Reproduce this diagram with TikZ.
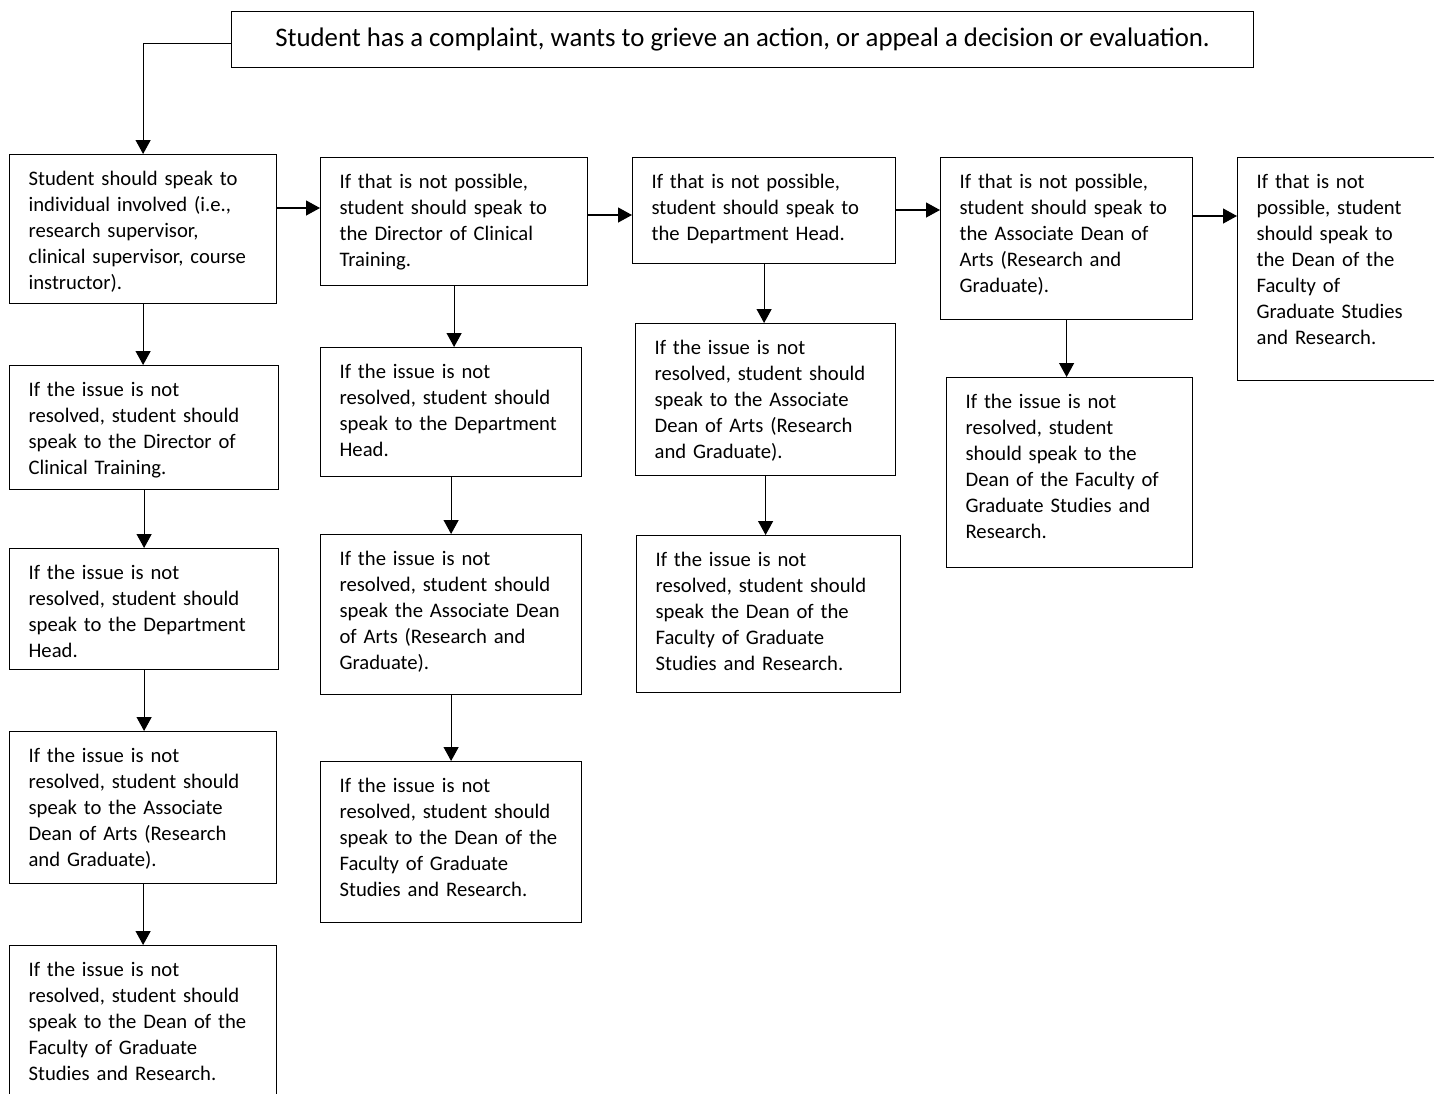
\documentclass[tikz,border=0pt]{standalone}
\usepackage{fontspec}
\setmainfont{Carlito}
\usetikzlibrary{arrows.meta}
\newcommand{\boxlines}[1]{\begin{tabular}[t]{@{}l@{}}#1\end{tabular}}

\begin{document}
\begin{tikzpicture}[x=0.5pt,y=-0.5pt]
        \tikzstyle{item}=[rectangle,draw,line width=0.6pt,anchor=north west,align=left,inner xsep=9.5pt,inner ysep=5pt,text height=10.5pt,font=\fontsize{10.33}{13}\selectfont]
        \tikzstyle{link}=[line width=0.6pt,-{Triangle[length=7pt,width=7.5pt]}]
        \useasboundingbox (0,0) rectangle (1434,1093);
        \node [rectangle,draw,line width=0.6pt,anchor=north west,minimum width=511pt,minimum height=28pt,inner sep=0pt,font=\fontsize{13.4}{16}\selectfont] (start) at (231,11) {Student has a complaint, wants to grieve an action, or appeal a decision or evaluation.};
        % first column
        \node [item,text width=114.5pt,text depth=54pt] (indiv) at (9,154) {\boxlines{Student should speak to\\individual involved (i.e.,\\research supervisor,\\clinical supervisor, course\\instructor).}};
        \node [item,text width=115.5pt,text depth=41.5pt] (dct1) at (9,365) {\boxlines{If the issue is not\\resolved, student should\\speak to the Director of\\Clinical Training.}};
        \node [item,text width=115.5pt,text depth=40pt] (head1) at (9,548) {\boxlines{If the issue is not\\resolved, student should\\speak to the Department\\Head.}};
        \node [item,text width=114.5pt,text depth=55.5pt] (assoc1) at (9,731) {\boxlines{If the issue is not\\resolved, student should\\speak to the Associate\\Dean of Arts (Research\\and Graduate).}};
        \node [item,text width=114.5pt,text depth=62pt] (dean1) at (9,945) {\boxlines{If the issue is not\\resolved, student should\\speak to the Dean of the\\Faculty of Graduate\\Studies and Research.}};
        % second column
        \node [item,text width=114.5pt,text depth=43.5pt] (dct) at (320,157) {\boxlines{If that is not possible,\\student should speak to\\the Director of Clinical\\Training.}};
        \node [item,text width=111.5pt,text depth=44pt] (head2) at (320,347) {\boxlines{If the issue is not\\resolved, student should\\speak to the Department\\Head.}};
        \node [item,text width=111.5pt,text depth=59.5pt] (assoc2) at (320,534) {\boxlines{If the issue is not\\resolved, student should\\speak the Associate Dean\\of Arts (Research and\\Graduate).}};
        \node [item,text width=111.5pt,text depth=60pt] (dean2) at (320,761) {\boxlines{If the issue is not\\resolved, student should\\speak to the Dean of the\\Faculty of Graduate\\Studies and Research.}};
        % third column
        \node [item,text width=112.5pt,text depth=32.5pt] (head) at (632,157) {\boxlines{If that is not possible,\\student should speak to\\the Department Head.}};
        \node [item,text width=111pt,text depth=55.5pt] (assoc3) at (635,323) {\boxlines{If the issue is not\\resolved, student should\\speak to the Associate\\Dean of Arts (Research\\and Graduate).}};
        \node [item,text width=113pt,text depth=58pt] (dean3) at (636,535) {\boxlines{If the issue is not\\resolved, student should\\speak the Dean of the\\Faculty of Graduate\\Studies and Research.}};
        % fourth and fifth column
        \node [item,text width=107pt,text depth=60.5pt] (assoc) at (940,157) {\boxlines{If that is not possible,\\student should speak to\\the Associate Dean of\\Arts (Research and\\Graduate).}};
        \node [item,text width=104pt,text depth=74.5pt] (dean4) at (946,377) {\boxlines{If the issue is not\\resolved, student\\should speak to the\\Dean of the Faculty of\\Graduate Studies and\\Research.}};
        \node [item,text width=87pt,text depth=91pt] (dean) at (1237,157) {\boxlines{If that is not\\possible, student\\should speak to\\the Dean of the\\Faculty of\\Graduate Studies\\and Research.}};
        % connectors
        \draw [link] ([yshift=-2pt]start.west) -| (indiv.north);
        \draw [link] (indiv.south) -- (indiv.south |- dct1.north);
        \draw [link] (dct1.south) -- (dct1.south |- head1.north);
        \draw [link] (head1.south) -- (head1.south |- assoc1.north);
        \draw [link] (assoc1.south) -- (assoc1.south |- dean1.north);
        \draw [link] (dct.south) -- (dct.south |- head2.north);
        \draw [link] (head2.south) -- (head2.south |- assoc2.north);
        \draw [link] (assoc2.south) -- (assoc2.south |- dean2.north);
        \draw [link] (head.south) -- (head.south |- assoc3.north);
        \draw [link] (assoc3.south) -- (assoc3.south |- dean3.north);
        \draw [link] (assoc.south) -- (assoc.south |- dean4.north);
        \draw [link] ([yshift=-27pt]indiv.north east) coordinate (h1) -- (h1 -| dct.west);
        \draw [link] ([yshift=-29pt]dct.north east) coordinate (h2) -- (h2 -| head.west);
        \draw [link] ([yshift=-26.5pt]head.north east) coordinate (h3) -- (h3 -| assoc.west);
        \draw [link] ([yshift=-29.5pt]assoc.north east) coordinate (h4) -- (h4 -| dean.west);
\end{tikzpicture}
\end{document}
